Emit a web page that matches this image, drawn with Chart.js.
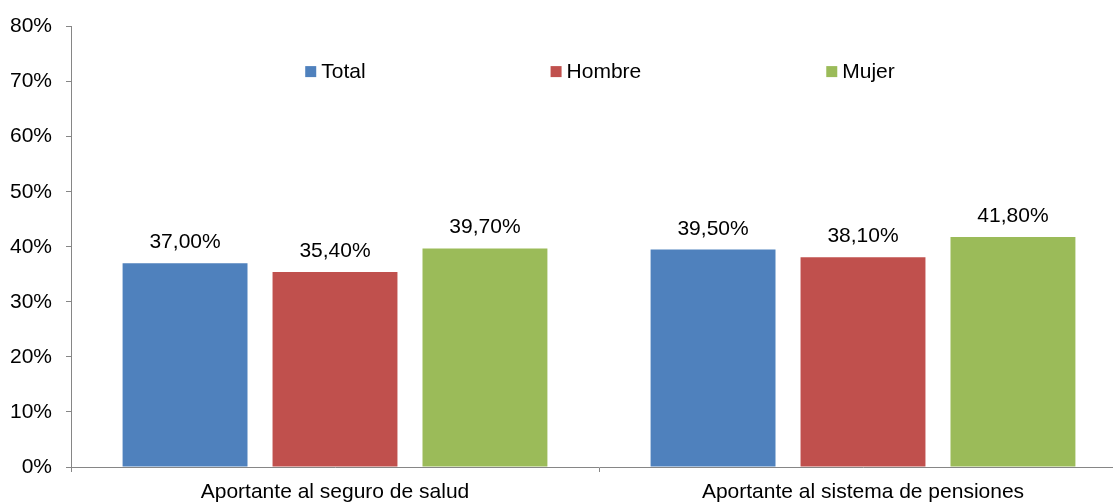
<!DOCTYPE html>
<html>
<head>
<meta charset="utf-8">
<script src="https://cdn.jsdelivr.net/npm/chart.js"></script>
<style>
html, body { margin: 0; padding: 0; background: #fff; overflow: hidden; }
#wrap { width: 1127px; height: 502px; }
</style>
</head>
<body>
<div id="wrap"><canvas id="grafico"></canvas></div>
<script>
// datos
const categorias = ['Aportante al seguro de salud', 'Aportante al sistema de pensiones'];
const series = ['Total', 'Hombre', 'Mujer'];
const total = [37.0, 39.5];
const hombre = [35.4, 38.1];
const mujer = [39.7, 41.8];
const ejeY = [0, 10, 20, 30, 40, 50, 60, 70, 80];

const colores = ['#4F81BD', '#C0504D', '#9BBB59'];
const fuente = '"Liberation Sans", Arial, sans-serif';

Chart.defaults.font.family = fuente;
Chart.defaults.font.size = 21;
Chart.defaults.color = '#000';

// leyenda dentro del area del grafico
const leyenda = {
  id: 'leyenda',
  afterDraw(chart) {
    const ctx = chart.ctx;
    const area = chart.chartArea;
    ctx.save();
    ctx.font = '21px ' + fuente;
    ctx.textBaseline = 'middle';
    const caja = 11, sep = 5, hueco = 185;
    const items = chart.data.datasets.map(ds => ({
      txt: ds.label,
      color: ds.backgroundColor,
      w: caja + sep + ctx.measureText(ds.label).width
    }));
    const ancho = items.reduce((a, it) => a + it.w, 0) + hueco * (items.length - 1);
    let x = (area.left + area.right) / 2 - ancho / 2 + 1;
    const y = area.top + 45;
    items.forEach(it => {
      ctx.fillStyle = it.color;
      ctx.fillRect(x, y - caja / 2, caja, caja);
      ctx.fillStyle = '#000';
      ctx.fillText(it.txt, x + caja + sep, y + 1);
      x += it.w + hueco;
    });
    ctx.restore();
  }
};

// etiquetas de valores sobre las barras
const etiquetas = {
  id: 'etiquetas',
  afterDatasetsDraw(chart) {
    const ctx = chart.ctx;
    ctx.save();
    ctx.font = '21px ' + fuente;
    ctx.fillStyle = '#000';
    ctx.textAlign = 'center';
    ctx.textBaseline = 'alphabetic';
    chart.data.datasets.forEach((ds, i) => {
      chart.getDatasetMeta(i).data.forEach((bar, j) => {
        const txt = ds.data[j].toFixed(2).replace('.', ',') + '%';
        ctx.fillText(txt, bar.x, bar.y - 15);
      });
    });
    ctx.restore();
  }
};

new Chart(document.getElementById('grafico'), {
  type: 'bar',
  data: {
    labels: categorias,
    datasets: [
      { label: series[0], data: total, backgroundColor: colores[0] },
      { label: series[1], data: hombre, backgroundColor: colores[1] },
      { label: series[2], data: mujer, backgroundColor: colores[2] }
    ]
  },
  options: {
    responsive: true,
    maintainAspectRatio: false,
    animation: false,
    categoryPercentage: 0.852,
    barPercentage: 0.833,
    layout: { padding: { top: 25, right: 0, bottom: 0, left: 0 } },
    plugins: {
      legend: { display: false },
      tooltip: { enabled: false }
    },
    scales: {
      x: {
        grid: { drawOnChartArea: false, drawTicks: true, tickLength: 5, color: '#868686' },
        border: { color: '#868686' },
        ticks: { padding: 8, maxRotation: 0 },
        afterFit: s => { s.height = 35; }
      },
      y: {
        min: ejeY[0],
        max: ejeY[ejeY.length - 1],
        grid: { drawOnChartArea: false, drawTicks: true, tickLength: 5, color: '#868686' },
        border: { color: '#868686' },
        ticks: { stepSize: ejeY[1] - ejeY[0], padding: 14, callback: v => v + '%' },
        afterFit: s => { s.width = 71; }
      }
    }
  },
  plugins: [leyenda, etiquetas]
});
</script>
</body>
</html>
